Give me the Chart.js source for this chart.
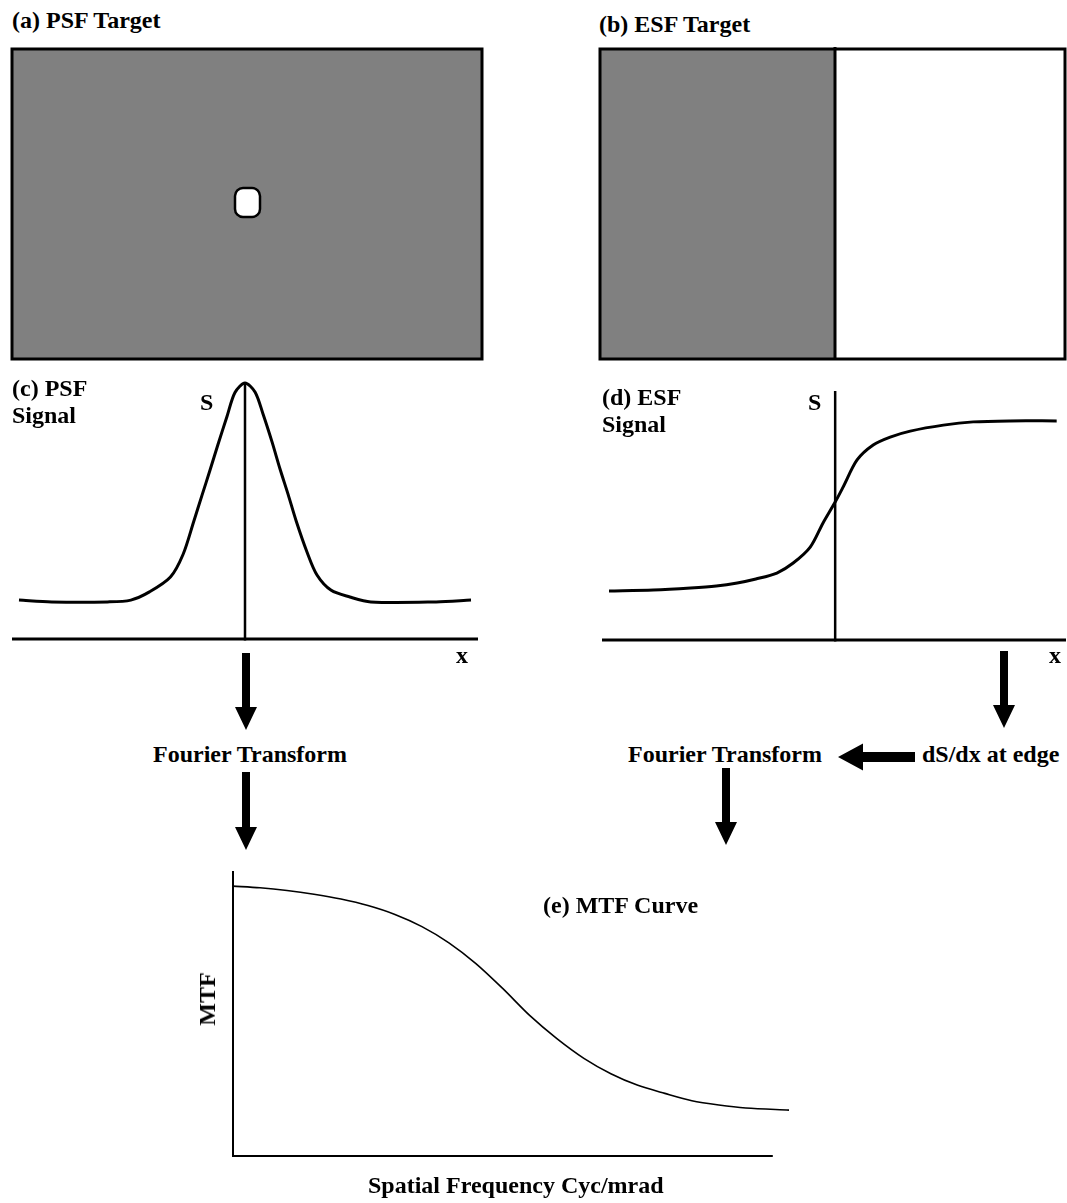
<!DOCTYPE html>
<html>
<head>
<meta charset="utf-8">
<title>PSF / ESF / MTF</title>
<script src="https://cdn.jsdelivr.net/npm/chart.js@4.4.1/dist/chart.umd.min.js"></script>
<style>
  html, body { margin: 0; padding: 0; background: #fff; }
  #sheet {
    position: relative; width: 1067px; height: 1203px; overflow: hidden;
    font-family: "Liberation Serif", "Times New Roman", serif; font-weight: bold; color: #000;
  }
  #deco { position: absolute; left: 0; top: 0; }
  canvas { position: absolute; }
  .lbl { position: absolute; font-size: 24px; line-height: 1; white-space: nowrap; }
  .rot { transform: translate(-50%, -50%) rotate(-90deg); }
</style>
</head>
<body>
<div id="sheet">
  <svg id="deco" width="1067" height="1203"></svg>
  <canvas id="psfChart"></canvas>
  <canvas id="esfChart"></canvas>
  <canvas id="mtfChart"></canvas>

  <div class="lbl" style="left:12px;top:8px">(a) PSF Target</div>
  <div class="lbl" style="left:599px;top:12px">(b) ESF Target</div>
  <div class="lbl" style="left:12px;top:376px">(c) PSF</div>
  <div class="lbl" style="left:12px;top:403px">Signal</div>
  <div class="lbl" style="left:200px;top:390px">S</div>
  <div class="lbl" style="left:456px;top:643px">x</div>
  <div class="lbl" style="left:602px;top:385px">(d) ESF</div>
  <div class="lbl" style="left:602px;top:412px">Signal</div>
  <div class="lbl" style="left:808px;top:390px">S</div>
  <div class="lbl" style="left:1049px;top:643px">x</div>
  <div class="lbl" style="left:153px;top:742px">Fourier Transform</div>
  <div class="lbl" style="left:628px;top:742px">Fourier Transform</div>
  <div class="lbl" style="left:922px;top:742px">dS/dx at edge</div>
  <div class="lbl" style="left:543px;top:893px">(e) MTF Curve</div>
  <div class="lbl rot" style="left:207px;top:999px">MTF</div>
  <div class="lbl" style="left:368px;top:1173px">Spatial Frequency Cyc/mrad</div>
</div>

<script>
// ---- curve samples (x in arbitrary units, signal normalised)
const psfX = [-9.7, -8.3, -5.9, -4.9, -4.1, -3.2, -2.66, -2.2, -1.85, -1.5, -1.16, -0.77, -0.43, 0.0,
              0.43, 0.77, 1.16, 1.5, 1.85, 2.2, 2.66, 3.09, 3.7, 4.5, 5.4, 8.2, 9.7];
const psfS = [0.152, 0.145, 0.145, 0.152, 0.184, 0.242, 0.330, 0.459, 0.560, 0.660, 0.760, 0.870, 0.963, 1.0,
              0.965, 0.880, 0.770, 0.665, 0.565, 0.460, 0.340, 0.250, 0.190, 0.164, 0.145, 0.145, 0.152];

const esfX = [-9.7, -7.8, -6.2, -5.1, -4.2, -3.4, -2.5, -1.8, -1.07, -0.52, 0.0,
              0.34, 0.94, 1.63, 2.36, 3.22, 4.64, 5.92, 7.5, 9.5];
const esfS = [0.197, 0.201, 0.209, 0.217, 0.229, 0.245, 0.269, 0.309, 0.373, 0.470, 0.554,
              0.614, 0.723, 0.783, 0.815, 0.839, 0.863, 0.876, 0.880, 0.880];

// spatial frequency (cyc/mrad, arbitrary) vs MTF
const mtfF = [0, 0.5, 1.0, 1.5, 2.0, 2.5, 3.0, 3.5, 4.0, 4.5, 5.0, 5.5,
              6.0, 6.5, 7.0, 7.5, 8.0, 8.5, 9.0, 9.5, 10.3];
const mtfV = [1.0, 0.994, 0.984, 0.970, 0.952, 0.928, 0.895, 0.850, 0.790, 0.713, 0.620, 0.520,
              0.435, 0.362, 0.305, 0.262, 0.232, 0.205, 0.189, 0.178, 0.170];

// ---- targets and arrows (plain svg, no data in here)
const SVGNS = 'http://www.w3.org/2000/svg';
const deco = document.getElementById('deco');

function svgEl(tag, attrs) {
  const el = document.createElementNS(SVGNS, tag);
  for (const k in attrs) el.setAttribute(k, attrs[k]);
  deco.appendChild(el);
  return el;
}

// (a) point target
svgEl('rect', { x: 12, y: 49, width: 470, height: 310, fill: '#808080', stroke: '#000', 'stroke-width': 3 });
svgEl('rect', { x: 235, y: 188, width: 25, height: 29, rx: 8, fill: '#fff', stroke: '#000', 'stroke-width': 2.5 });

// (b) edge target
svgEl('rect', { x: 600, y: 49, width: 235, height: 310, fill: '#808080' });
svgEl('rect', { x: 600, y: 49, width: 465, height: 310, fill: 'none', stroke: '#000', 'stroke-width': 3 });
svgEl('line', { x1: 835, y1: 47, x2: 835, y2: 360, stroke: '#000', 'stroke-width': 3 });

function arrowDown(cx, y0, tip) {
  const sw = 8, hw = 22, hl = 23;
  const pts = [
    [cx - sw / 2, y0], [cx + sw / 2, y0], [cx + sw / 2, tip - hl], [cx + hw / 2, tip - hl],
    [cx, tip], [cx - hw / 2, tip - hl], [cx - sw / 2, tip - hl]
  ];
  svgEl('polygon', { points: pts.map(p => p.join(',')).join(' '), fill: '#000' });
}

function arrowLeft(cy, x0, tip) {
  const sw = 10, hw = 27, hl = 25;
  const pts = [
    [x0, cy - sw / 2], [x0, cy + sw / 2], [tip + hl, cy + sw / 2], [tip + hl, cy + hw / 2],
    [tip, cy], [tip + hl, cy - hw / 2], [tip + hl, cy - sw / 2]
  ];
  svgEl('polygon', { points: pts.map(p => p.join(',')).join(' '), fill: '#000' });
}

arrowDown(246, 653, 730);
arrowDown(246, 772, 850);
arrowDown(1004, 651, 728);
arrowDown(726, 768, 845);
arrowLeft(757, 915, 838);

// ---- axes through the origin, drawn from the chart's own scales
const axesAt = {
  id: 'axesAt',
  beforeDatasetsDraw(chart, args, o) {
    const { ctx, scales: { x, y } } = chart;
    const y0 = y.getPixelForValue(0);
    const x0 = x.getPixelForValue(o.vAt);
    ctx.save();
    ctx.strokeStyle = '#000';
    ctx.lineWidth = o.hw;
    ctx.beginPath();
    ctx.moveTo(x.getPixelForValue(o.hFrom), y0);
    ctx.lineTo(x.getPixelForValue(o.hTo), y0);
    ctx.stroke();
    ctx.lineWidth = o.vw;
    ctx.beginPath();
    ctx.moveTo(x0, y0 + o.hw / 2);
    ctx.lineTo(x0, y.getPixelForValue(o.vTop));
    ctx.stroke();
    ctx.restore();
  }
};

function curveChart(id, box, xs, ys, o) {
  const cv = document.getElementById(id);
  cv.width = box.w;
  cv.height = box.h;
  cv.style.left = box.left + 'px';
  cv.style.top = box.top + 'px';
  return new Chart(cv, {
    type: 'line',
    data: {
      datasets: [{
        data: xs.map((x, i) => ({ x: x, y: ys[i] })),
        borderColor: '#000',
        borderWidth: o.lw,
        pointRadius: 0,
        tension: 0.3,
        fill: false,
        clip: false
      }]
    },
    options: {
      responsive: false,
      animation: false,
      devicePixelRatio: 1,
      layout: { padding: box.pad },
      scales: {
        x: { type: 'linear', display: false, min: o.xMin, max: o.xMax },
        y: { type: 'linear', display: false, min: o.yMin, max: o.yMax }
      },
      plugins: {
        legend: { display: false },
        tooltip: { enabled: false },
        axesAt: o.axes
      }
    },
    plugins: [axesAt]
  });
}

curveChart('psfChart',
  { left: 0, top: 360, w: 500, h: 310, pad: { left: 12, right: 22, top: 23, bottom: 31 } },
  psfX, psfS,
  { lw: 3, xMin: -10, xMax: 10, yMin: 0, yMax: 1,
    axes: { hFrom: -10, hTo: 10, vAt: 0, vTop: 1, hw: 3, vw: 2.5 } });

curveChart('esfChart',
  { left: 590, top: 370, w: 477, h: 300, pad: { left: 12, right: 1, top: 21, bottom: 30 } },
  esfX, esfS,
  { lw: 3, xMin: -10, xMax: 9.9, yMin: 0, yMax: 1,
    axes: { hFrom: -10, hTo: 9.9, vAt: 0, vTop: 1, hw: 3, vw: 2.5 } });

curveChart('mtfChart',
  { left: 200, top: 850, w: 610, h: 330, pad: { left: 33, right: 21, top: 21, bottom: 24 } },
  mtfF, mtfV,
  { lw: 1.6, xMin: 0, xMax: 10.3, yMin: 0, yMax: 1.056,
    axes: { hFrom: 0, hTo: 10, vAt: 0, vTop: 1.056, hw: 2, vw: 2 } });
</script>
</body>
</html>
